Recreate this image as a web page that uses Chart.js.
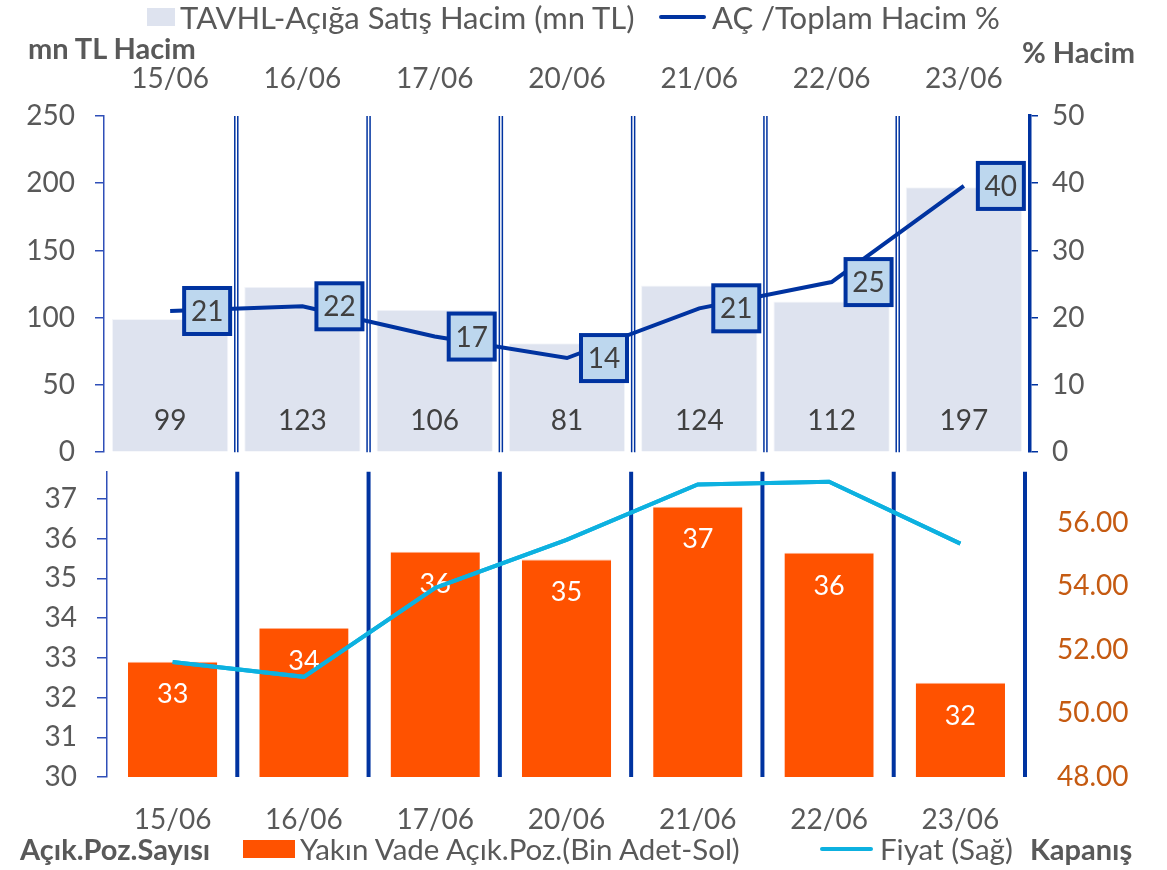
<!DOCTYPE html>
<html>
<head>
<meta charset="utf-8">
<script src="https://cdn.jsdelivr.net/npm/chart.js@4"></script>
<style>
  body { margin: 0; background: #fff; width: 1167px; height: 870px; position: relative; overflow: hidden; font-family: Lato, sans-serif; color: #595959; }
  canvas { position: absolute; left: 0; }
  .txt { position: absolute; line-height: 34px; white-space: nowrap; }
  .lg1 { font-size: 31px; }
  .lg2 { font-size: 29.5px; }
  .b { font-weight: bold; font-size: 29px; }
  .sw { position: absolute; }
</style>
</head>
<body>
<div style="position:absolute;left:0;top:0;width:1167px;height:489px"><canvas id="topChart"></canvas></div>
<div style="position:absolute;left:0;top:424px;width:1167px;height:446px"><canvas id="bottomChart"></canvas></div>

<div class="sw" style="left:147px;top:8px;width:28px;height:18px;background:#DEE3EF"></div>
<div class="txt lg1" style="left:180px;top:0px">TAVHL-Açığa Satış Hacim (mn TL)</div>
<div class="sw" style="left:659px;top:15px;width:47px;height:4px;background:#0033A0;border-radius:2px"></div>
<div class="txt lg1" style="left:712px;top:0px">AÇ /Toplam Hacim %</div>
<div class="txt b" style="left:28px;top:31px">mn TL Hacim</div>
<div class="txt b" style="left:1022px;top:35px">% Hacim</div>

<div class="txt b" style="left:20px;top:832px">Açık.Poz.Sayısı</div>
<div class="sw" style="left:243px;top:840px;width:52px;height:18px;background:#FF5200"></div>
<div class="txt lg2" style="left:300px;top:832px">Yakın Vade Açık.Poz.(Bin Adet-Sol)</div>
<div class="sw" style="left:820px;top:847px;width:53px;height:4px;background:#0DB1E0;border-radius:2px"></div>
<div class="txt lg2" style="left:880px;top:832px">Fiyat (Sağ)</div>
<div class="txt b" style="left:1030px;top:832px">Kapanış</div>

<script>
const categories = ['15/06', '16/06', '17/06', '20/06', '21/06', '22/06', '23/06'];
const shortVolume = [99, 123, 106, 81, 124, 112, 197];          // mn TL
const shortRatio = [21.0, 21.7, 17.2, 14.0, 21.4, 25.3, 39.6];   // %
const openPositions = [32.9, 33.75, 35.67, 35.47, 36.8, 35.64, 32.37]; // bin adet
const closePrice = [51.62, 51.15, 53.95, 55.46, 57.2, 57.29, 55.34];

const volumeTicks = [0, 50, 100, 150, 200, 250];
const ratioTicks = [0, 10, 20, 30, 40, 50];

const FONT = 'Lato, sans-serif';
const GRAY = '#595959';
const NAVY = '#0033A0';
const AXIS_BLUE = '#2F4FB8';

Chart.defaults.font.family = FONT;
Chart.defaults.font.size = 28;
Chart.defaults.color = GRAY;

// vertical separators between categories
function separators(double, includeLast) {
    return {
        id: 'separators',
        beforeDatasetsDraw(chart) {
            const { ctx, chartArea, scales: { x } } = chart;
            const step = x.getPixelForValue(1) - x.getPixelForValue(0);
            const n = includeLast ? categories.length : categories.length - 1;
            ctx.save();
            ctx.strokeStyle = NAVY;
            for (let i = 0; i < n; i++) {
                const px = x.getPixelForValue(i) + step / 2;
                ctx.beginPath();
                if (double) {
                    ctx.lineWidth = 1.5;
                    ctx.moveTo(px - 1.5, chartArea.top); ctx.lineTo(px - 1.5, chartArea.bottom);
                    ctx.moveTo(px + 1.5, chartArea.top); ctx.lineTo(px + 1.5, chartArea.bottom);
                } else {
                    ctx.lineWidth = 4;
                    ctx.moveTo(px - 1, chartArea.top); ctx.lineTo(px - 1, chartArea.bottom);
                }
                ctx.stroke();
            }
            ctx.restore();
        }
    };
}

const topLabels = {
    id: 'topLabels',
    afterDatasetsDraw(chart) {
        const { ctx } = chart;
        const bars = chart.getDatasetMeta(1).data;
        const pts = chart.getDatasetMeta(0).data;
        ctx.save();
        ctx.font = '28px ' + FONT;
        ctx.textAlign = 'center';
        ctx.textBaseline = 'middle';
        bars.forEach((b, i) => {
            ctx.fillStyle = '#404040';
            ctx.fillText(shortVolume[i], b.x, b.base - 30);
        });
        pts.forEach((p, i) => {
            const cx = p.x + 37, cy = p.y, w = 46;
            ctx.fillStyle = '#BDD7EE';
            ctx.fillRect(cx - w / 2, cy - w / 2, w, w);
            ctx.lineWidth = 4;
            ctx.strokeStyle = NAVY;
            ctx.strokeRect(cx - w / 2, cy - w / 2, w, w);
            ctx.fillStyle = '#404040';
            ctx.fillText(Math.round(shortRatio[i]), cx, cy + 1);
        });
        ctx.restore();
    }
};

const bottomLabels = {
    id: 'bottomLabels',
    afterDatasetsDraw(chart) {
        const { ctx } = chart;
        const bars = chart.getDatasetMeta(1).data;
        ctx.save();
        ctx.font = '27px ' + FONT;
        ctx.textAlign = 'center';
        ctx.textBaseline = 'middle';
        ctx.fillStyle = '#fff';
        bars.forEach((b, i) => ctx.fillText(Math.round(openPositions[i]), b.x, b.y + 33));
        ctx.restore();
        // price line stays above the labels
        chart.getDatasetMeta(0).controller.draw();
    }
};

new Chart(document.getElementById('topChart').getContext('2d'), {
    data: {
        labels: categories,
        datasets: [
            {
                type: 'line',
                data: shortRatio,
                yAxisID: 'y1',
                borderColor: NAVY,
                borderWidth: 4,
                pointRadius: 0,
                tension: 0,
                order: 0
            },
            {
                type: 'bar',
                data: shortVolume,
                yAxisID: 'y',
                backgroundColor: '#DEE3EF',
                borderColor: '#F4F6FA',
                borderWidth: 1,
                barPercentage: 0.88,
                categoryPercentage: 1,
                order: 1
            }
        ]
    },
    options: {
        responsive: true,
        maintainAspectRatio: false,
        animation: false,
        layout: { padding: 0 },
        plugins: { legend: { display: false }, tooltip: { enabled: false } },
        scales: {
            x: {
                position: 'top',
                grid: { display: false, drawTicks: false },
                border: { display: false },
                ticks: { padding: 20, color: GRAY },
                afterFit: s => { s.height = 116; }
            },
            y: {
                position: 'left',
                min: 0,
                max: 250,
                afterBuildTicks: s => { s.ticks = volumeTicks.map(v => ({ value: v })); },
                grid: { drawOnChartArea: false, color: AXIS_BLUE, tickLength: 9, lineWidth: 1.5 },
                border: { display: true, color: AXIS_BLUE, width: 1.5 },
                ticks: { padding: 20, color: GRAY },
                afterFit: s => { s.width = 104; }
            },
            y1: {
                position: 'right',
                min: 0,
                max: 50,
                afterBuildTicks: s => { s.ticks = ratioTicks.map(v => ({ value: v })); },
                grid: { drawOnChartArea: false, color: NAVY, tickLength: 8, lineWidth: 1.5 },
                border: { display: true, color: NAVY, width: 3.5 },
                ticks: { padding: 14, color: GRAY },
                afterFit: s => { s.width = 137; }
            }
        }
    },
    plugins: [separators(true, false), topLabels]
});

new Chart(document.getElementById('bottomChart').getContext('2d'), {
    data: {
        labels: categories,
        datasets: [
            {
                type: 'line',
                data: closePrice,
                yAxisID: 'y1',
                borderColor: '#0DB1E0',
                borderWidth: 4,
                pointRadius: 0,
                tension: 0,
                order: 0
            },
            {
                type: 'bar',
                data: openPositions,
                yAxisID: 'y',
                backgroundColor: '#FF5200',
                borderColor: '#FFB08A',
                borderWidth: { top: 1 },
                barPercentage: 0.68,
                categoryPercentage: 1,
                order: 1
            }
        ]
    },
    options: {
        responsive: true,
        maintainAspectRatio: false,
        animation: false,
        layout: { padding: 0 },
        plugins: { legend: { display: false }, tooltip: { enabled: false } },
        scales: {
            x: {
                position: 'bottom',
                grid: { display: false, drawTicks: false },
                border: { display: false },
                ticks: { padding: 26, color: GRAY },
                afterFit: s => { s.height = 93; }
            },
            y: {
                position: 'left',
                min: 30,
                max: 37.68,
                ticks: { stepSize: 1, includeBounds: false, padding: 20, color: GRAY },
                grid: { drawOnChartArea: false, color: AXIS_BLUE, tickLength: 10, lineWidth: 1.5 },
                border: { display: true, color: AXIS_BLUE, width: 1.5 },
                afterFit: s => { s.width = 107; }
            },
            y1: {
                position: 'right',
                min: 48,
                max: 57.6,
                ticks: {
                    stepSize: 2,
                    includeBounds: false,
                    padding: 31,
                    color: '#C55A11',
                    callback: v => v.toFixed(2)
                },
                grid: { display: false, drawTicks: false },
                border: { display: false },
                afterFit: s => { s.width = 141; }
            }
        }
    },
    plugins: [separators(false, true), bottomLabels]
});
</script>
</body>
</html>
